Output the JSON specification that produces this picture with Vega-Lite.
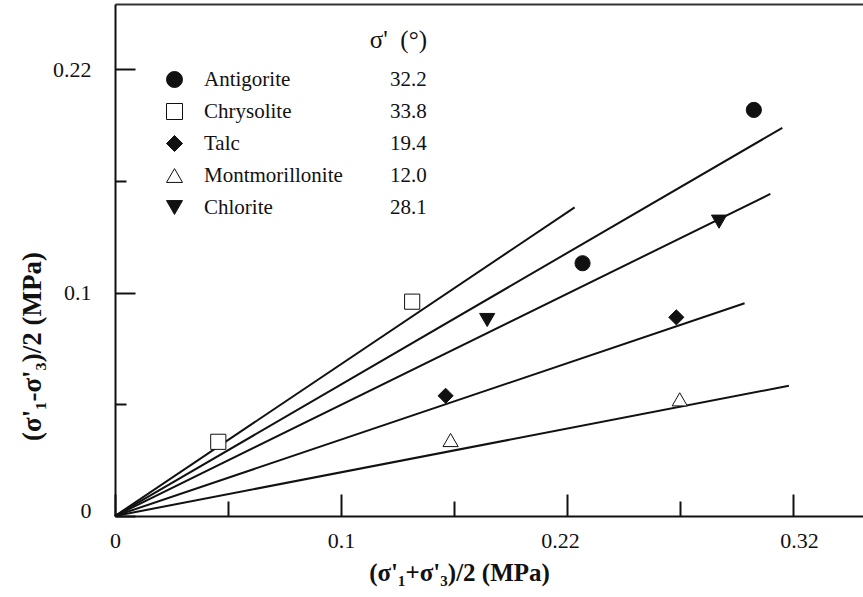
{
  "$schema": "https://vega.github.io/schema/vega-lite/v6.json",
  "width": 748,
  "height": 512,
  "autosize": {"type": "none"},
  "padding": {"left": 115, "top": 4, "right": 0, "bottom": 81},
  "background": "white",
  "config": {
    "view": {"stroke": null},
    "font": "Liberation Serif",
    "axis": {
      "grid": false,
      "domainColor": "#111",
      "domainWidth": 2,
      "tickColor": "#111",
      "tickWidth": 2,
      "labelFont": "Liberation Serif",
      "labelFontSize": 22,
      "labelColor": "#111",
      "titleFont": "Liberation Serif",
      "titleFontSize": 25,
      "titleFontWeight": "bold",
      "titleColor": "#111"
    },
    "legend": {
      "labelFont": "Liberation Serif",
      "labelFontSize": 21,
      "labelColor": "#111",
      "titleFont": "Liberation Serif",
      "titleFontSize": 25,
      "titleFontWeight": "normal",
      "titleColor": "#111"
    }
  },
  "datasets": {
    "lines": [
      {"mineral": "Chrysolite", "p": 0, "q": 0},
      {"mineral": "Chrysolite", "p": 0.2034, "q": 0.1381},
      {"mineral": "Antigorite", "p": 0, "q": 0},
      {"mineral": "Antigorite", "p": 0.2953, "q": 0.1737},
      {"mineral": "Chlorite", "p": 0, "q": 0},
      {"mineral": "Chlorite", "p": 0.29, "q": 0.1441},
      {"mineral": "Talc", "p": 0, "q": 0},
      {"mineral": "Talc", "p": 0.2786, "q": 0.0952},
      {"mineral": "Montmorillonite", "p": 0, "q": 0},
      {"mineral": "Montmorillonite", "p": 0.2982, "q": 0.0583}
    ],
    "points": [
      {"mineral": "Antigorite", "angle": "32.2", "p": 0.2827, "q": 0.1817},
      {"mineral": "Antigorite", "angle": "32.2", "p": 0.2069, "q": 0.1131},
      {"mineral": "Chrysolite", "angle": "33.8", "p": 0.1315, "q": 0.0959},
      {"mineral": "Chrysolite", "angle": "33.8", "p": 0.0457, "q": 0.0332},
      {"mineral": "Talc", "angle": "19.4", "p": 0.1463, "q": 0.0538},
      {"mineral": "Talc", "angle": "19.4", "p": 0.2484, "q": 0.0889},
      {"mineral": "Montmorillonite", "angle": "12.0", "p": 0.1485, "q": 0.034},
      {"mineral": "Montmorillonite", "angle": "12.0", "p": 0.2499, "q": 0.0522},
      {"mineral": "Chlorite", "angle": "28.1", "p": 0.1647, "q": 0.0877},
      {"mineral": "Chlorite", "angle": "28.1", "p": 0.2673, "q": 0.1317}
    ]
  },
  "resolve": {"axis": {"x": "independent"}},
  "layer": [
    {
      "data": {"name": "lines"},
      "mark": {"type": "line", "color": "#111", "strokeWidth": 2},
      "encoding": {
        "x": {
          "field": "p", "type": "quantitative",
          "scale": {"domain": [0, 0.331], "nice": false, "zero": true},
          "axis": {
            "orient": "bottom",
            "values": [0, 0.05, 0.1, 0.15, 0.2, 0.25, 0.3],
            "labelExpr": "datum.value==0?'0':datum.value==0.1?'0.1':datum.value==0.2?'0.22':datum.value==0.3?'0.32':''",
            "tickSize": {"condition": {"test": "datum.value==0||datum.value==0.1||datum.value==0.2||datum.value==0.3", "value": -22}, "value": -15},
            "labelOffset": {"condition": [{"test": "datum.value==0.2", "value": -7}, {"test": "datum.value==0.3", "value": 6}], "value": 0},
            "labelPadding": 36,
            "labelFlush": false,
            "labelOverlap": false,
            "title": "(σ'₁+σ'₃)/2 (MPa)",
            "titleX": 344,
            "titleY": 56,
            "titleBaseline": "middle",
            "titleAnchor": null
          }
        },
        "y": {
          "field": "q", "type": "quantitative",
          "scale": {"domain": [0, 0.2291], "nice": false, "zero": true},
          "axis": {
            "orient": "left",
            "values": [0, 0.05, 0.1, 0.15, 0.2],
            "labelExpr": "datum.value==0?'0':datum.value==0.1?'0.1':datum.value==0.2?'0.22':''",
            "tickSize": {"condition": {"test": "datum.value==0||datum.value==0.1||datum.value==0.2", "value": -20}, "value": -11},
            "labelOffset": {"condition": {"test": "datum.value==0", "value": -6}, "value": 0},
            "labelPadding": 44,
            "labelFlush": false,
            "labelOverlap": false,
            "title": "(σ'₁-σ'₃)/2 (MPa)",
            "titleFontSize": 27,
            "titleX": -83,
            "titleY": 342,
            "titleAngle": -90,
            "titleBaseline": "middle",
            "titleAnchor": null
          }
        },
        "detail": {"field": "mineral"}
      }
    },
    {
      "data": {"name": "points"},
      "mark": {"type": "point", "filled": true, "stroke": "#111", "strokeWidth": 1, "size": 230, "opacity": 1},
      "encoding": {
        "x": {
          "field": "p", "type": "quantitative",
          "axis": {"orient": "top", "labels": false, "ticks": false, "domain": true, "domainWidth": 2, "domainColor": "#333", "title": null}
        },
        "y": {
          "field": "q", "type": "quantitative",
          "axis": {
            "orient": "left",
            "values": [0, 0.05, 0.1, 0.15, 0.2],
            "labelExpr": "datum.value==0?'0':datum.value==0.1?'0.1':datum.value==0.2?'0.22':''",
            "tickSize": {"condition": {"test": "datum.value==0||datum.value==0.1||datum.value==0.2", "value": -20}, "value": -11},
            "labelOffset": {"condition": {"test": "datum.value==0", "value": -6}, "value": 0},
            "labelPadding": 44,
            "labelFlush": false,
            "labelOverlap": false,
            "title": "(σ'₁-σ'₃)/2 (MPa)",
            "titleFontSize": 27,
            "titleX": -83,
            "titleY": 342,
            "titleAngle": -90,
            "titleBaseline": "middle",
            "titleAnchor": null
          }
        },
        "shape": {
          "field": "mineral", "type": "nominal",
          "scale": {
            "domain": ["Antigorite", "Chrysolite", "Talc", "Montmorillonite", "Chlorite"],
            "range": ["circle", "square", "diamond", "triangle-up", "triangle-down"]
          },
          "legend": {
            "orient": "none", "legendX": 49, "legendY": 24, "padding": 0,
            "title": "σ'  (°)", "titleOpacity": 0, "titlePadding": 16,
            "symbolSize": 256, "labelOffset": 19, "rowPadding": 10,
            "symbolStrokeColor": "#111", "symbolStrokeWidth": 1
          }
        },
        "color": {
          "field": "mineral", "type": "nominal",
          "scale": {
            "domain": ["Antigorite", "Chrysolite", "Talc", "Montmorillonite", "Chlorite"],
            "range": ["#111", "white", "#111", "white", "#111"]
          },
          "legend": {
            "orient": "none", "legendX": 49, "legendY": 24, "padding": 0,
            "title": "σ'  (°)", "titleOpacity": 0, "titlePadding": 16,
            "symbolSize": 256, "labelOffset": 19, "rowPadding": 10,
            "symbolStrokeColor": "#111", "symbolStrokeWidth": 1
          }
        },
        "opacity": {
          "field": "angle", "type": "nominal",
          "scale": {"domain": ["32.2", "33.8", "19.4", "12.0", "28.1"], "range": [1, 1, 1, 1, 1]},
          "legend": {
            "orient": "none", "legendX": 250, "legendY": 24, "padding": 0,
            "title": "σ'\u00a0\u00a0(°)", "titleAnchor": "end", "titlePadding": 16,
            "symbolType": "M0,0", "symbolSize": 256, "labelOffset": 4, "rowPadding": 10
          }
        }
      }
    }
  ]
}
